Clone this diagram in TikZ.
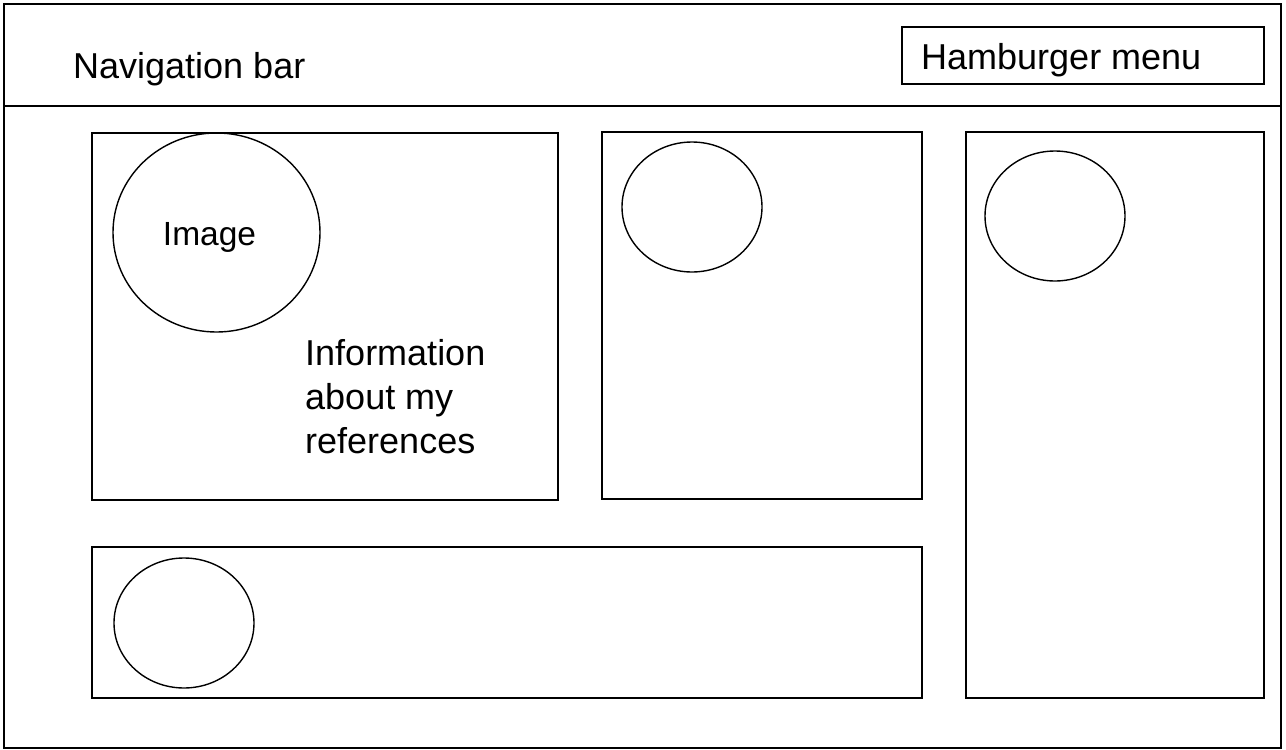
\documentclass[tikz,border=0pt]{standalone}
\usepackage{fontspec}
\setmainfont{Liberation Sans}
\usetikzlibrary{shapes.geometric}
\begin{document}
\begin{tikzpicture}[x=1pt,y=-1pt,
  frame/.style={draw=black,line width=1.5pt},
  panel/.style={draw=black,line width=1.4pt},
  blob/.style={draw=black,line width=1.4pt},
  lbl/.style={inner sep=0pt,anchor=base west,font=\fontsize{36}{44}\selectfont}]
\useasboundingbox (0,0) rectangle (1286,750);
\path[fill=white] (0,0) rectangle (1286,750);
% outer frame
\draw[frame] (4,4) rectangle (1281,748);
\coordinate (sepL) at (4,106);
\coordinate (sepR) at (1281,106);
\draw[frame] (sepL) -- (sepR);
\node[lbl] (nav) at (73,78) {Navigation bar};
\draw[panel] (902,27) rectangle (1264,84);
\node[lbl] (ham) at (921,69) {Hamburger menu};
% panels
\draw[panel] (92,133) rectangle (558,500);
\draw[panel] (602,132) rectangle (922,499);
\draw[panel] (966,132) rectangle (1264,698);
\draw[panel] (92,547) rectangle (922,698);
% circles
\draw[blob] (216.5,232.5) ellipse [x radius=103.5,y radius=99.5];
\node[inner sep=0pt,anchor=base,font=\fontsize{33.5}{40}\selectfont] (img) at (209.5,245) {Image};
\draw[blob] (692,207) ellipse [x radius=70,y radius=65];
\draw[blob] (1055,216) ellipse [x radius=70,y radius=65];
\draw[blob] (184,623) ellipse [x radius=70,y radius=65];
\node[lbl,align=left,anchor=north west] (info) at (305,339) {Information\\about my\\references};
\end{tikzpicture}
\end{document}
